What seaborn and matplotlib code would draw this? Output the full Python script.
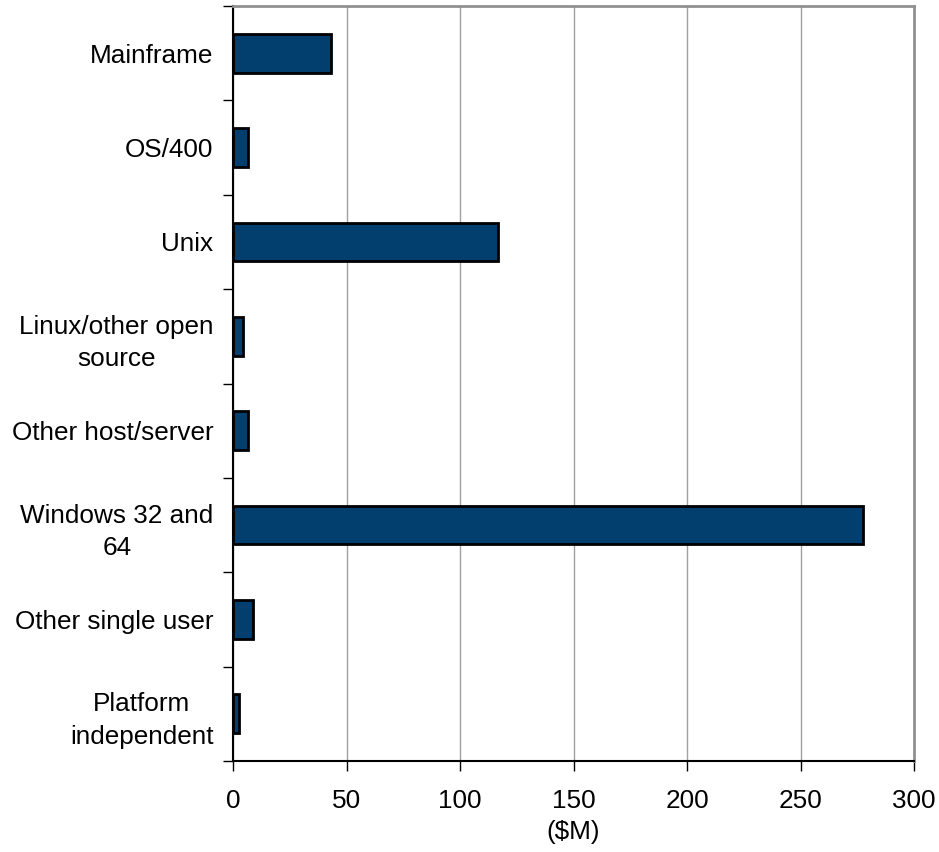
import matplotlib
matplotlib.use("Agg")
import matplotlib.pyplot as plt
import seaborn as sns
import pandas as pd
import numpy as np

categories = ["Mainframe", "OS/400", "Unix", "Linux/other open\nsource",
              "Other host/server", "Windows 32 and\n64", "Other single user",
              "Platform\nindependent"]
values = [43.2, 6.5, 116.7, 4.3, 6.5, 277.5, 8.7, 2.6]
xticks = [0, 50, 100, 150, 200, 250, 300]

sns.set_theme(style="white")
plt.rcParams['font.family'] = ['Liberation Sans', 'DejaVu Sans']

df = pd.DataFrame({"cat": categories, "val": values})

fig = plt.figure(figsize=(9.39, 8.52), dpi=100)
ax = fig.add_axes([233/939, 1-761/852, (914-233)/939, (761-6)/852])

sns.barplot(data=df, x="val", y="cat", orient="h", color="#023E6E",
            width=0.41, edgecolor="black", linewidth=2, saturation=1, ax=ax)

ax.set_xlim(0, 300)
ax.set_ylim(len(categories)-0.5, -0.5)
ax.set_xticks(xticks)
ax.set_xticklabels([str(t) for t in xticks])
ax.xaxis.grid(True, color="#A0A0A0", linewidth=1)
ax.set_axisbelow(True)

ax.set_yticks(range(len(categories)))
ax.set_yticklabels(categories, multialignment="center")
for lab in ax.get_yticklabels():
    lab.set_linespacing(1.45)
ax.set_yticks(np.arange(-0.5, len(categories), 1.0), minor=True)
ax.tick_params(axis="y", which="major", length=0, pad=14, labelsize=18.8, colors="black")
ax.tick_params(axis="y", which="minor", left=True, length=7, width=1, color="black")
ax.tick_params(axis="x", which="major", bottom=True, length=7, width=1, color="black",
               pad=13, labelsize=18.8, labelcolor="black")

ax.set_ylabel("")
ax.set_xlabel("($M)", fontsize=18.8, labelpad=5, color="black")

for s in ["left", "bottom"]:
    ax.spines[s].set_color("black")
    ax.spines[s].set_linewidth(1.5)
for s in ["top", "right"]:
    ax.spines[s].set_color("#909090")
    ax.spines[s].set_linewidth(2)
    ax.spines[s].set_visible(True)

fig.savefig("out.png", dpi=100, facecolor="white")
